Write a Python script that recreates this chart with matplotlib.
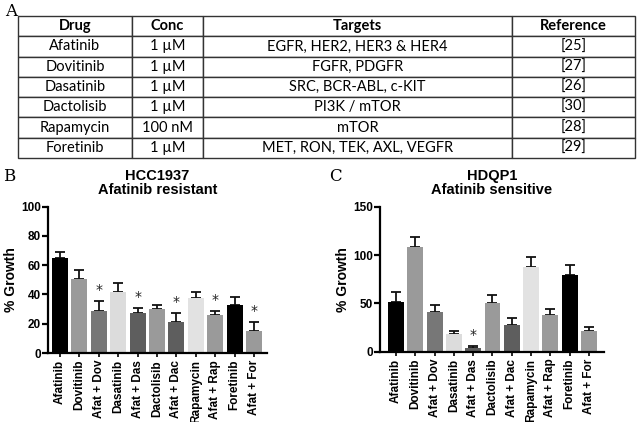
import numpy as np
import matplotlib
matplotlib.use("Agg")
import matplotlib.pyplot as plt

# Table (panel A)
table_header = ["Drug", "Conc", "Targets", "Reference"]
drugs = ["Afatinib", "Dovitinib", "Dasatinib", "Dactolisib", "Rapamycin", "Foretinib"]
concs = ["1 µM", "1 µM", "1 µM", "1 µM", "100 nM", "1 µM"]
targets = ["EGFR, HER2, HER3 & HER4", "FGFR, PDGFR", "SRC, BCR-ABL, c-KIT",
           "PI3K / mTOR", "mTOR", "MET, RON, TEK, AXL, VEGFR"]
refs = ["[25]", "[27]", "[26]", "[30]", "[28]", "[29]"]

# Bar charts (panels B and C)
conditions = ["Afatinib", "Dovitinib", "Afat + Dov", "Dasatinib", "Afat + Das",
              "Dactolisib", "Afat + Dac", "Rapamycin", "Afat + Rap", "Foretinib",
              "Afat + For"]
bar_colors = ["#000000", "#9a9a9a", "#777777", "#dcdcdc", "#5e5e5e",
              "#9a9a9a", "#5e5e5e", "#e2e2e2", "#9a9a9a", "#000000", "#9a9a9a"]

hcc_growth = [64.8, 50.5, 28.9, 41.4, 27.3, 30.0, 20.9, 37.3, 26.1, 33.0, 14.8]
hcc_err = [4.1, 6.3, 6.8, 6.3, 3.4, 3.0, 6.4, 4.1, 2.8, 5.6, 6.1]
hcc_star = [2, 4, 6, 8, 10]

hdq_growth = [51.7, 108.0, 40.7, 18.3, 3.4, 50.0, 27.2, 87.9, 37.9, 79.3, 21.7]
hdq_err = [10.3, 10.3, 7.6, 3.1, 2.4, 8.6, 7.3, 10.3, 6.2, 10.3, 4.1]
hdq_star = [4]

fig = plt.figure(figsize=(6.4, 4.22), dpi=100)

# ---- panel A: table ----
W, H = 640.0, 422.0
tab_ax = fig.add_axes([18 / W, 1 - 158 / H, 617 / W, 142 / H])
tab_ax.axis("off")
cells = [[d, c, t, r] for d, c, t, r in zip(drugs, concs, targets, refs)]
col_w = np.array([114, 71, 309, 123]) / 617.0
tbl = tab_ax.table(cellText=cells, colLabels=table_header, colWidths=col_w,
                   cellLoc="center", bbox=[0, 0, 1, 1])
tbl.auto_set_font_size(False)
for (r, c), cell in tbl.get_celld().items():
    cell.set_linewidth(1.0)
    cell.set_edgecolor("#333333")
    txt = cell.get_text()
    txt.set_fontsize(10.5)
    txt.set_family("Lato")
    if r == 0:
        txt.set_fontweight("bold")

fig.text(5 / W, 1 - 12 / H, "A", family="DejaVu Serif", fontsize=12, va="center")
fig.text(3 / W, 1 - 177 / H, "B", family="DejaVu Serif", fontsize=12, va="center")
fig.text(329 / W, 1 - 177 / H, "C", family="DejaVu Serif", fontsize=12, va="center")


def bar_panel(rect, vals, errs, stars, ymax, yticks, title, xlim):
    ax = fig.add_axes(rect)
    x = np.arange(len(conditions))
    ax.bar(x, vals, width=0.82, color=bar_colors, zorder=2)
    ax.errorbar(x, vals, yerr=[np.zeros(len(errs)), errs], fmt="none",
                ecolor="#111111", elinewidth=1.3, capsize=3.5, capthick=1.3, zorder=1)
    for i in stars:
        ax.annotate("*", (x[i], vals[i] + errs[i]), xytext=(0, 3),
                    textcoords="offset points", ha="center", va="bottom",
                    fontsize=10, color="#222222")
    ax.set_ylim(0, ymax)
    ax.set_xlim(*xlim)
    ax.set_yticks(yticks)
    ax.set_xticks(x)
    ax.set_xticklabels(conditions, rotation=90, fontsize=8.5, fontweight="bold",
                       family="Liberation Sans")
    for lab in ax.get_yticklabels():
        lab.set_fontweight("bold")
        lab.set_family("Liberation Sans")
        lab.set_fontsize(8.5)
    ax.spines["top"].set_visible(False)
    ax.spines["right"].set_visible(False)
    ax.spines["left"].set_linewidth(1.6)
    ax.spines["bottom"].set_linewidth(1.6)
    ax.tick_params(axis="y", width=1.6, length=4, pad=1)
    ax.tick_params(axis="x", width=1.2, length=3, pad=2)
    ax.set_ylabel("% Growth", fontsize=10, fontweight="bold",
                  family="Liberation Sans", labelpad=2)
    ax.set_title(title, fontsize=10.5, fontweight="bold", family="Liberation Sans",
                 pad=9, linespacing=1.05)
    return ax


bar_panel([47.7 / W, 1 - 353 / H, (267 - 47.7) / W, (353 - 206.7) / H],
          hcc_growth, hcc_err, hcc_star, 100, [0, 20, 40, 60, 80, 100],
          "HCC1937\nAfatinib resistant", (-0.63, 10.67))
bar_panel([380 / W, 1 - 351.7 / H, (604 - 380) / W, (351.7 - 206.7) / H],
          hdq_growth, hdq_err, hdq_star, 150, [0, 50, 100, 150],
          "HDQP1\nAfatinib sensitive", (-0.83, 10.78))

fig.savefig("out.png", dpi=100)
